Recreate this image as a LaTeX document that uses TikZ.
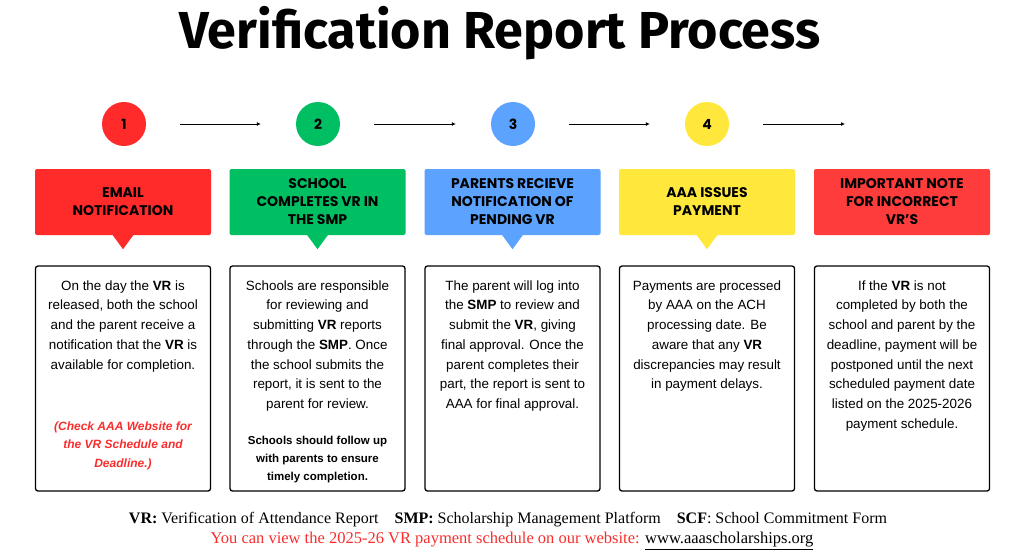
\documentclass[tikz,border=0pt]{standalone}
\usepackage{fontspec}
\setmainfont{Liberation Sans}
\newfontfamily\titlefont{Fira Sans}
\newfontfamily\headfont{Poppins}
\newfontfamily\footfont{Liberation Serif}
\usetikzlibrary{arrows.meta,calc,positioning}
\definecolor{StepRed}{RGB}{255,43,43}
\definecolor{StepGreen}{RGB}{0,191,99}
\definecolor{StepBlue}{RGB}{92,163,255}
\definecolor{StepYellow}{RGB}{255,232,59}
\definecolor{NoteRed}{RGB}{255,60,60}
\definecolor{TextRed}{RGB}{250,45,45}
\tikzset{
  stepnum/.style={circle,minimum size=44pt,inner sep=0pt,font=\headfont\bfseries\fontsize{14}{14}\selectfont},
  headbox/.style={rounded corners=2pt,minimum width=176pt,minimum height=66pt,inner sep=0pt,align=center,
    font=\headfont\bfseries\fontsize{14}{18}\selectfont},
  infobox/.style={draw,line width=1.3pt,rounded corners=2.5pt,minimum width=175pt,minimum height=225pt},
  infotext/.style={anchor=north,align=center,inner sep=0pt,font=\fontsize{13.4}{19.7}\selectfont},
  flow/.style={-{Latex[length=4pt,width=4pt]},line width=0.8pt,shorten <=34pt,shorten >=35pt},
}
\newcommand{\pointer}[2]{\fill[#2] ($(#1.south)+(-11,-1)$) -- ($(#1.south)+(11,-1)$) -- ($(#1.south)+(0,14)$) -- cycle;}
\begin{document}
\begin{tikzpicture}[x=1pt,y=-1pt]
  \useasboundingbox[fill=white] (0,0) rectangle (1024,554);
  \node[font=\titlefont\bfseries\fontsize{52}{52}\selectfont] (title) at (500,33) {Verification Report Process};

  % step numbers
  \node[stepnum,fill=StepRed] (c1) at (124,124) {1};
  \node[stepnum,fill=StepGreen] (c2) at (318,124) {2};
  \node[stepnum,fill=StepBlue] (c3) at (513,124) {3};
  \node[stepnum,fill=StepYellow] (c4) at (707,124) {4};
  \coordinate (c5) at (902,124);
  \draw[flow] (c1) -- (c2);
  \draw[flow] (c2) -- (c3);
  \draw[flow] (c3) -- (c4);
  \draw[flow,shorten >=57pt] (c4) -- (c5);

  % headers
  \node[headbox,fill=StepRed] (h1) at (123,202) {EMAIL\\NOTIFICATION};
  \node[headbox,fill=StepGreen] (h2) at (317.5,202) {SCHOOL\\COMPLETES VR IN\\THE SMP};
  \node[headbox,fill=StepBlue] (h3) at (512.5,202) {PARENTS RECIEVE\\NOTIFICATION OF\\PENDING VR};
  \node[headbox,fill=StepYellow] (h4) at (707,202) {AAA ISSUES\\PAYMENT};
  \node[headbox,fill=NoteRed] (h5) at (902,202) {IMPORTANT NOTE\\FOR INCORRECT\\VR’S};
  \pointer{h1}{StepRed}
  \pointer{h2}{StepGreen}
  \pointer{h3}{StepBlue}
  \pointer{h4}{StepYellow}

  % info boxes
  \node[infobox] (b1) at (123,378.5) {};
  \node[infobox] (b2) at (317.5,378.5) {};
  \node[infobox] (b3) at (512.5,378.5) {};
  \node[infobox] (b4) at (707,378.5) {};
  \node[infobox] (b5) at (902,378.5) {};
  \node[infotext] (t1) at ($(b1.north)+(0,15)$) {On the day the \textbf{VR} is\\released, both the school\\and the parent receive a\\notification that the \textbf{VR} is\\available for completion.};
  \node[infotext,font=\bfseries\itshape\fontsize{12}{18.5}\selectfont,text=TextRed] (n1) at ($(b1.north)+(0,156)$) {(Check AAA Website for\\the VR Schedule and\\Deadline.)};
  \node[infotext] (t2) at ($(b2.north)+(0,15)$) {Schools are responsible\\for reviewing and\\submitting \textbf{VR} reports\\through the \textbf{SMP}. Once\\the school submits the\\report, it is sent to the\\parent for review.};
  \node[infotext,font=\bfseries\fontsize{11.5}{18}\selectfont] (n2) at ($(b2.north)+(0,171)$) {Schools should follow up\\with parents to ensure\\timely completion.};
  \node[infotext] (t3) at ($(b3.north)+(0,15)$) {The parent will log into\\the \textbf{SMP} to review and\\submit the \textbf{VR}, giving\\final approval. Once the\\parent completes their\\part, the report is sent to\\AAA for final approval.};
  \node[infotext] (t4) at ($(b4.north)+(0,15)$) {Payments are processed\\by AAA on the ACH\\processing date. Be\\aware that any \textbf{VR}\\discrepancies may result\\in payment delays.};
  \node[infotext] (t5) at ($(b5.north)+(0,15)$) {If the \textbf{VR} is not\\completed by both the\\school and parent by the\\deadline, payment will be\\postponed until the next\\scheduled payment date\\listed on the 2025-2026\\payment schedule.};

  % footer
  \node[font=\footfont\fontsize{16}{16}\selectfont] (key) at (508,520) {\textbf{VR:} Verification of Attendance Report\quad \textbf{SMP:} Scholarship Management Platform\quad \textbf{SCF}: School Commitment Form};
  \node[font=\footfont\fontsize{16.5}{16.5}\selectfont] (web) at (512,541) {\textcolor{TextRed}{You can view the 2025-26 VR payment schedule on our website:} \underline{www.aaascholarships.org}};
\end{tikzpicture}
\end{document}
